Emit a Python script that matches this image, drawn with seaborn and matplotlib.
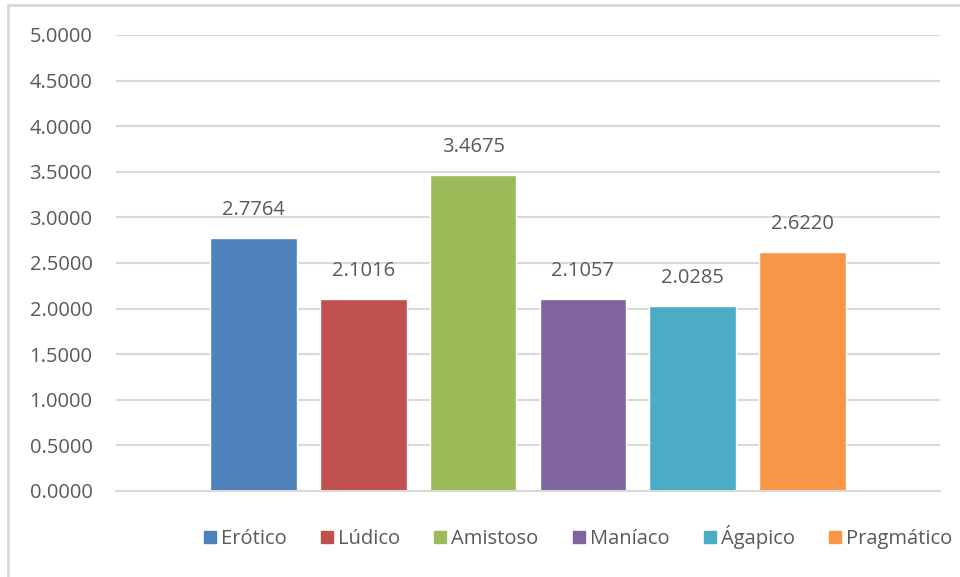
import matplotlib
matplotlib.use("Agg")
import pandas as pd
import matplotlib.pyplot as plt
import seaborn as sns
from matplotlib.patches import Rectangle

categorias = ["Erótico", "Lúdico", "Amistoso", "Maníaco", "Ágapico", "Pragmático"]
valores = [2.7764, 2.1016, 3.4675, 2.1057, 2.0285, 2.6220]
colores = ["#4F81BD", "#C0504D", "#9BBB59", "#8064A2", "#4BACC6", "#F79646"]
y_ticks = [0.0, 0.5, 1.0, 1.5, 2.0, 2.5, 3.0, 3.5, 4.0, 4.5, 5.0]

df = pd.DataFrame({"estilo": categorias, "media": valores})

sns.set_theme(style="white")
plt.rcParams["font.family"] = ["Open Sans", "DejaVu Sans"]
gris = "#595959"

fig = plt.figure(figsize=(9.6, 5.77), dpi=100)
ax = fig.add_axes([116 / 960, 1 - 491 / 577, (940 - 116) / 960, (491 - 35) / 577])

sns.barplot(data=df, x="estilo", y="media", hue="estilo", palette=colores,
            order=categorias, hue_order=categorias, dodge=False, width=0.79,
            saturation=1, legend=False, ax=ax)

# etiquetas de valor
for i, v in enumerate(valores):
    ax.text(i, v + 0.2, f"{v:.4f}", ha="center", va="bottom", fontsize=14.5, color=gris)

ax.set_ylim(0, 5)
ax.set_xlim(-1.25, 6.25)
ax.set_yticks(y_ticks)
ax.set_yticklabels([f"{t:.4f}" for t in y_ticks], fontsize=14.5, color=gris)
ax.set_xticks([])
ax.set_xlabel("")
ax.set_ylabel("")
ax.tick_params(axis="y", length=0, pad=17)
ax.yaxis.grid(True, color="#D9D9D9", linewidth=1.5)
ax.set_axisbelow(True)
for s in ["top", "right", "left"]:
    ax.spines[s].set_visible(False)
ax.spines["bottom"].set_color("#D9D9D9")
ax.spines["bottom"].set_linewidth(1.5)

# leyenda
handles = [Rectangle((0, 0), 1, 1, color=c) for c in colores]
fig.legend(handles, categorias, loc="center", bbox_to_anchor=(578 / 960, 1 - 537 / 577),
           ncol=6, frameon=False, fontsize=14.5, labelcolor=gris,
           handlelength=0.6, handleheight=0.6, handletextpad=0.25, columnspacing=1.7)

# marco del gráfico
fig.patches.append(Rectangle((8 / 960, -0.1), 1.2, 1.1 - 5 / 577, transform=fig.transFigure,
                             fill=False, edgecolor="#D9D9D9", linewidth=2))

fig.savefig("out.png", dpi=100)
